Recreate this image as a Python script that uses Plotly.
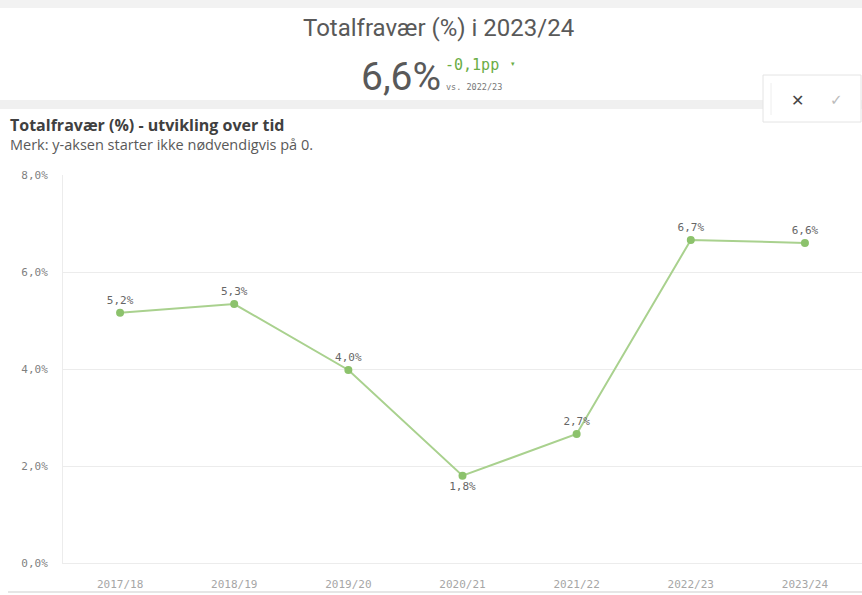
import plotly.graph_objects as go

# ---- data ----
categories = ["2017/18", "2018/19", "2019/20", "2020/21", "2021/22", "2022/23", "2023/24"]
values = [5.16, 5.34, 3.98, 1.80, 2.66, 6.66, 6.60]
label_positions = ["top center", "top center", "top center", "bottom center",
                   "top center", "top center", "top center"]
y_tick_vals = [0, 2, 4, 6, 8]
y_tick_text = ["0,0%", "2,0%", "4,0%", "6,0%", "8,0%"]

kpi_title = "Totalfravær (%) i 2023/24"
kpi_value = "6,6%"
kpi_delta = "-0,1pp"
kpi_compare = "vs. 2022/23"
chart_title = "Totalfravær (%) - utvikling over tid"
chart_subtitle = "Merk: y-aksen starter ikke nødvendigvis på 0."

# ---- geometry ----
W, H = 862, 595
L, R, T, B = 63, 0, 175, 32
PW = W - L - R
PH = H - T - B


def px(x):
    return (x - L) / PW


def py(y):
    return (H - B - y) / PH


def fmt(v):
    return f"{v:.1f}".replace(".", ",") + "%"


labels = [fmt(v) for v in values]

LINE = "#a9d18e"
MARK = "#8cc26c"
GREEN = "#6aad45"
DARK = "#595959"

fig = go.Figure()
fig.add_trace(go.Scatter(
    x=categories, y=values, mode="lines+markers+text",
    line=dict(color=LINE, width=2),
    marker=dict(color=MARK, size=8),
    text=labels, textposition=label_positions,
    textfont=dict(family="DejaVu Sans Mono", size=11, color="#666666"),
    cliponaxis=False, hoverinfo="skip", showlegend=False,
))

shapes = [
    # top grey band
    dict(type="rect", xref="paper", yref="paper", x0=px(0), x1=px(W), y0=py(8), y1=py(0),
         fillcolor="#f2f2f2", line=dict(width=0), layer="below"),
    # separator band
    dict(type="rect", xref="paper", yref="paper", x0=px(0), x1=px(W), y0=py(109), y1=py(100),
         fillcolor="#f0f0f0", line=dict(width=0), layer="below"),
    # floating box
    dict(type="rect", xref="paper", yref="paper", x0=px(763), x1=px(861), y0=py(122), y1=py(75),
         fillcolor="white", line=dict(color="#e4e4e4", width=1)),
    dict(type="line", xref="paper", yref="paper", x0=px(771), x1=px(771), y0=py(115), y1=py(83),
         line=dict(color="#eeeeee", width=1)),
    # bottom border
    dict(type="line", xref="paper", yref="paper", x0=px(8), x1=px(W), y0=py(592), y1=py(592),
         line=dict(color="#e6e6e6", width=2)),
]

annotations = [
    dict(text=kpi_title, x=px(438), y=py(28), xref="paper", yref="paper", showarrow=False,
         xanchor="center", yanchor="middle", font=dict(family="Roboto", size=24, color=DARK)),
    dict(text=kpi_value, x=px(443), y=py(77), xref="paper", yref="paper", showarrow=False,
         xanchor="right", yanchor="middle", font=dict(family="Roboto", size=39, color=DARK)),
    dict(text=kpi_delta, x=px(443), y=py(65), xref="paper", yref="paper", showarrow=False,
         xanchor="left", yanchor="middle", font=dict(family="DejaVu Sans Mono", size=15, color=GREEN)),
    dict(text="▾", x=px(509), y=py(64), xref="paper", yref="paper", showarrow=False,
         xanchor="left", yanchor="middle", font=dict(family="DejaVu Sans", size=7, color=GREEN)),
    dict(text=kpi_compare, x=px(444), y=py(87), xref="paper", yref="paper", showarrow=False,
         xanchor="left", yanchor="middle", font=dict(family="DejaVu Sans Mono", size=8.5, color="#777777")),
    dict(text="✕", x=px(797), y=py(100), xref="paper", yref="paper", showarrow=False,
         xanchor="center", yanchor="middle", font=dict(family="DejaVu Sans", size=16, color="#444444")),
    dict(text="✓", x=px(836), y=py(100), xref="paper", yref="paper", showarrow=False,
         xanchor="center", yanchor="middle", font=dict(family="DejaVu Sans", size=15, color="#bbbbbb")),
    dict(text=f"<b>{chart_title}</b>", x=px(8), y=py(125), xref="paper", yref="paper", showarrow=False,
         xanchor="left", yanchor="middle", font=dict(family="Open Sans", size=16, color="#404040")),
    dict(text=chart_subtitle, x=px(8), y=py(144), xref="paper", yref="paper", showarrow=False,
         xanchor="left", yanchor="middle", font=dict(family="Open Sans", size=14.5, color=DARK)),
]

fig.update_layout(
    width=W, height=H,
    margin=dict(l=L, r=R, t=T, b=B, pad=0),
    paper_bgcolor="white", plot_bgcolor="white",
    shapes=shapes, annotations=annotations,
    xaxis=dict(type="category", showgrid=False, zeroline=False,
               showline=True, linecolor="#ececec", linewidth=1, mirror=False,
               tickfont=dict(family="DejaVu Sans Mono", size=11, color="#a6a6a6"),
               ticks="outside", ticklen=11, tickcolor="rgba(0,0,0,0)",
               range=[-0.5, len(categories) - 0.5], fixedrange=True),
    yaxis=dict(range=[0, 8], tickvals=y_tick_vals, ticktext=y_tick_text,
               showgrid=True, gridcolor="#ececec", gridwidth=1, zeroline=False,
               showline=True, linecolor="#ececec", linewidth=1,
               tickfont=dict(family="DejaVu Sans Mono", size=11, color="#7f7f7f"),
               ticks="outside", ticklen=12, tickcolor="rgba(0,0,0,0)", fixedrange=True),
)

fig.write_html("out.html", config={"displayModeBar": False},
               post_script="document.body.style.margin='0';")
